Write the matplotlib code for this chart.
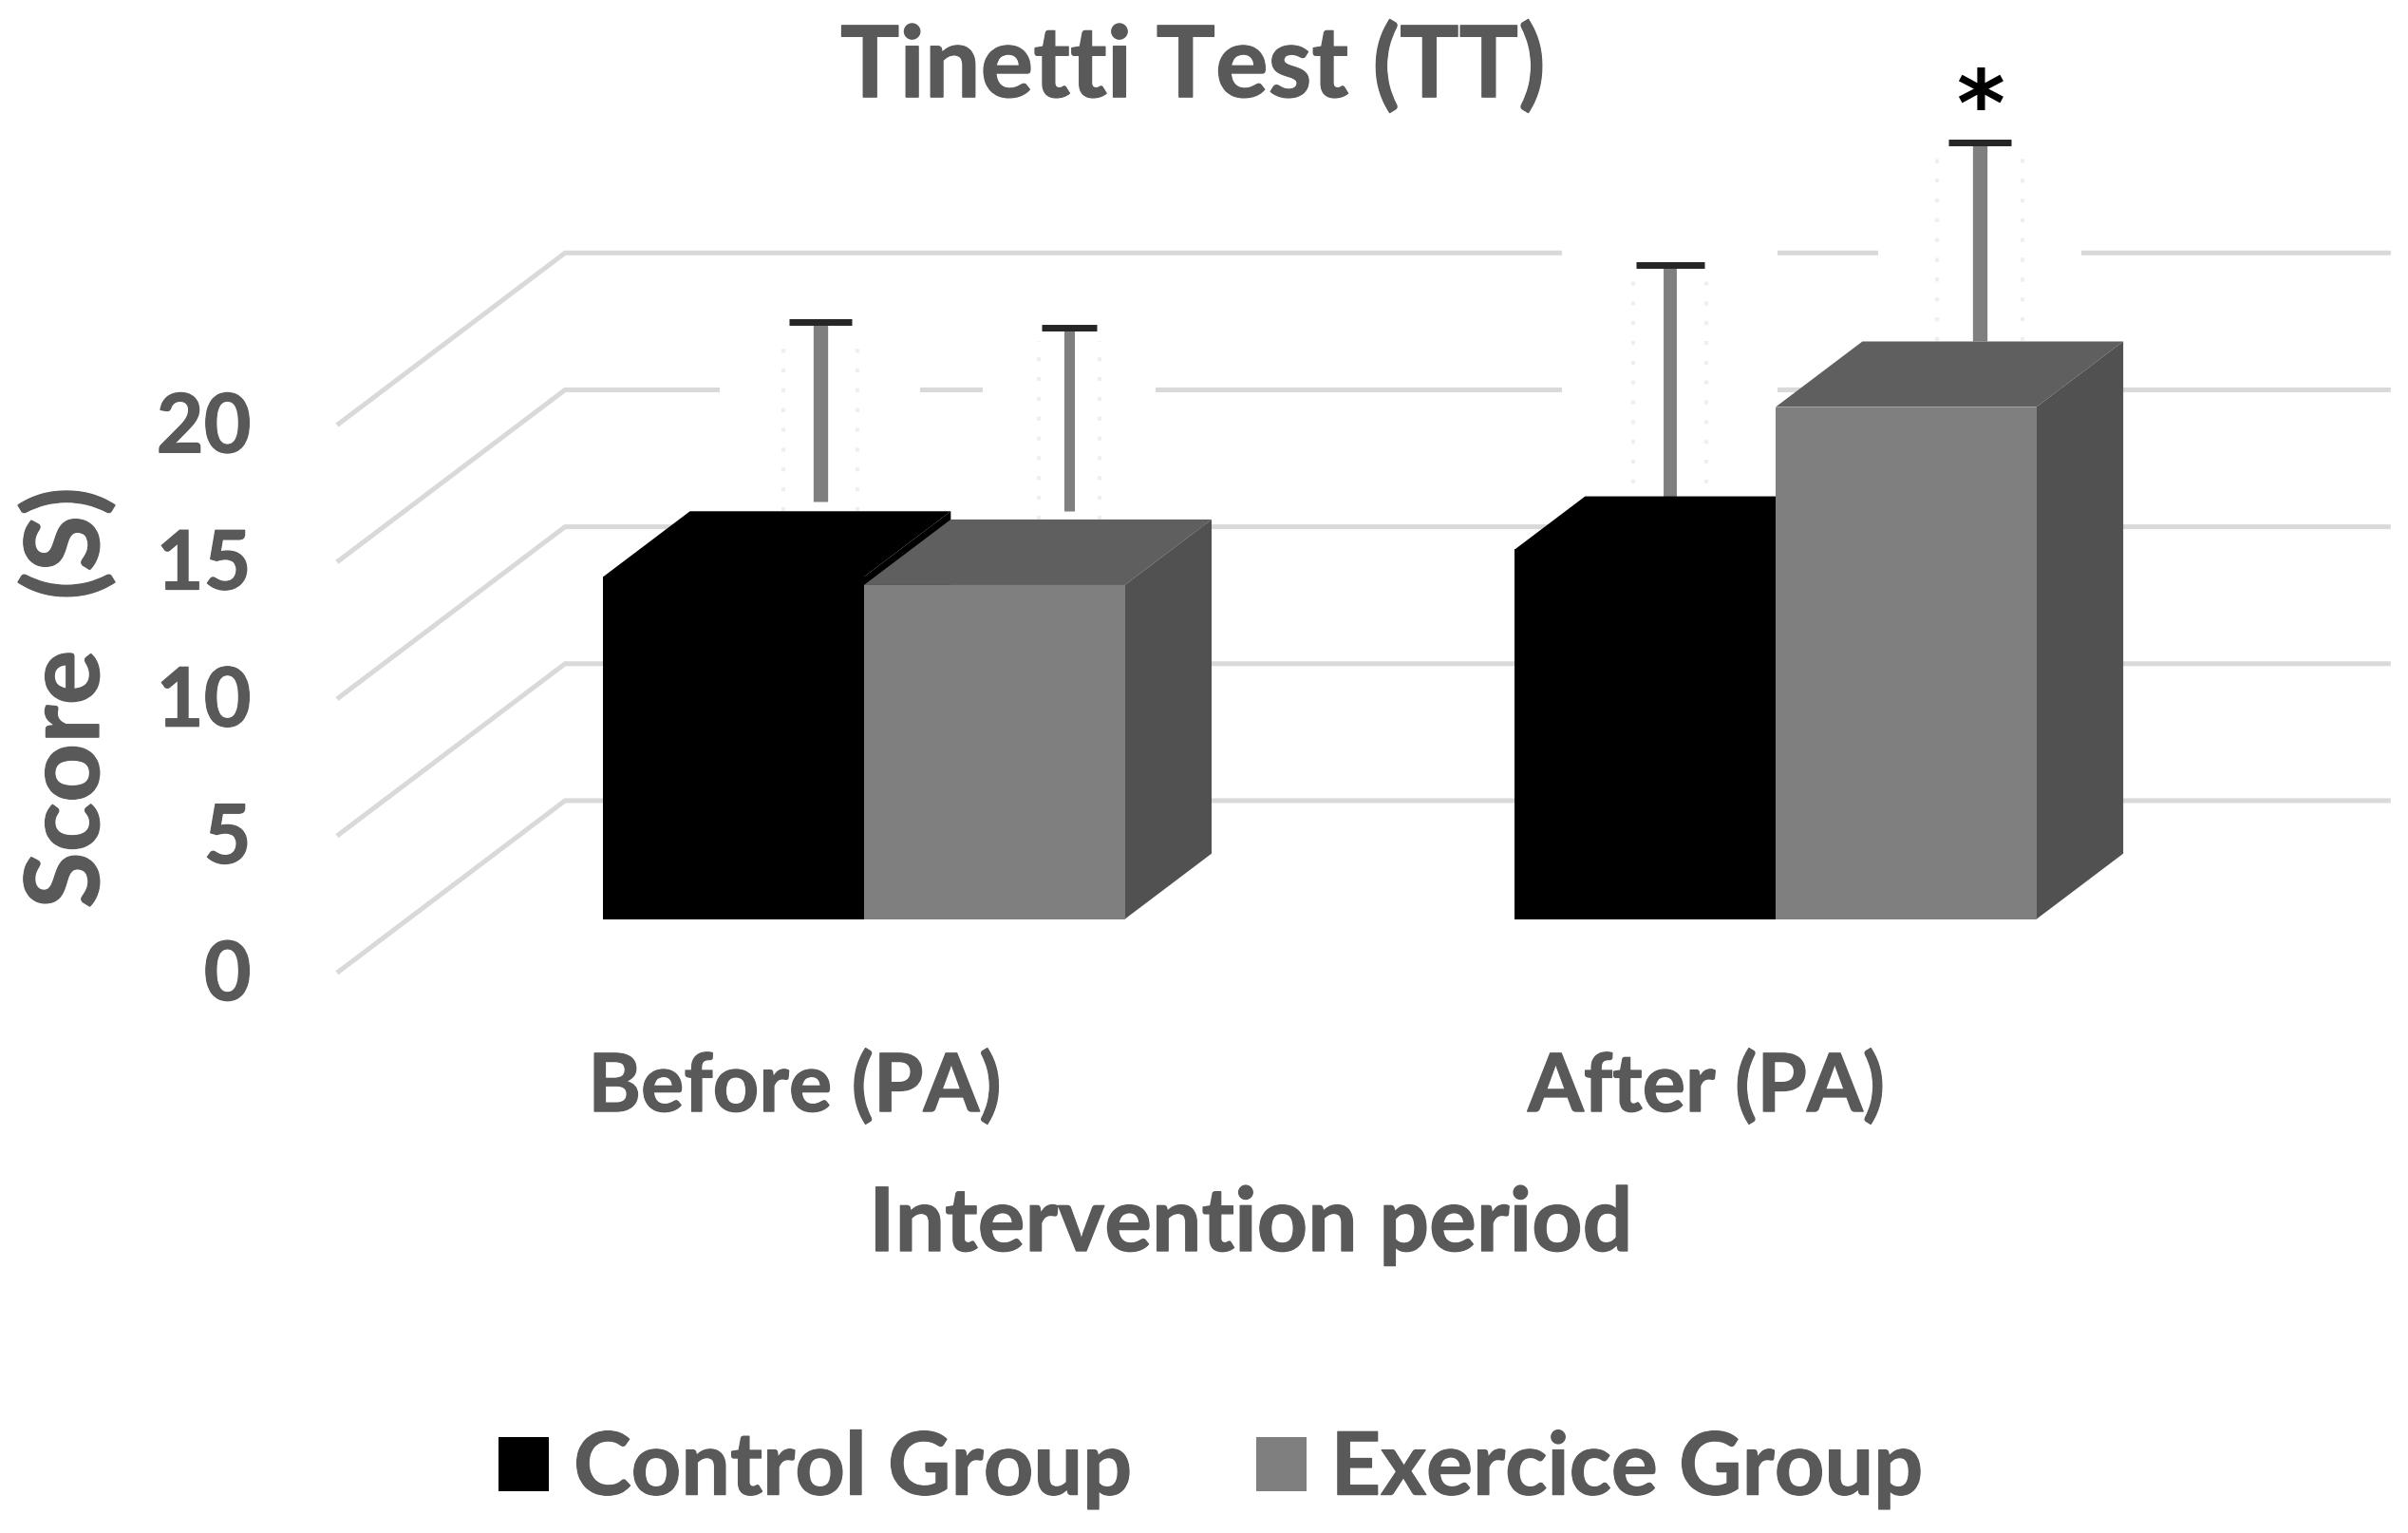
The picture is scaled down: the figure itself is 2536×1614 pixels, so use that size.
import numpy as np
import matplotlib
matplotlib.use('Agg')
import matplotlib.pyplot as plt
import matplotlib.patheffects as pe
from matplotlib.patches import Patch, Polygon

# values
periods = ['Before (PA)', 'After (PA)']
groups = ['Control Group', 'Exercice Group']
control_mean = [12.5, 13.5]
control_sd = [6.9, 8.0]
exercise_mean = [12.2, 18.7]
exercise_sd = [7.0, 7.25]
score_ticks = [0, 5, 10, 15, 20]

TEXT = '#595959'
GRID = '#d9d9d9'
plt.rcParams['font.family'] = ['Lato', 'DejaVu Sans']
plt.rcParams['font.weight'] = 'bold'
HEAVY = [pe.withStroke(linewidth=0.9, foreground=TEXT)]

# oblique projection of the excel style 3D chart
PX_W, PX_H = 1565.0, 997.0   # picture size in the units I measured in
PX_CAT = 592.5               # px per category
PX_UNIT = 17.8               # px per score unit
X0, Y0 = 516.5, 632.0        # where category 0 / score 0 sits on the front edge
DX = 147.0 / PX_CAT
DY = 111.0 / PX_UNIT
D_FRONT, D_BACK = 0.306, 0.69
BAR_W = 169.5 / PX_CAT


def proj(x, v, d):
    return x + d * DX, v + d * DY


fig = plt.figure(figsize=(25.36, 16.15), dpi=100)
ax = fig.add_axes([0, 0, 1, 1])
ax.set_xlim(-X0 / PX_CAT, (PX_W - X0) / PX_CAT)
ax.set_ylim((Y0 - PX_H) / PX_UNIT, Y0 / PX_UNIT)
ax.axis('off')

# gridlines: wall then back plane
for v in score_ticks:
    xs = [-0.5, -0.5 + DX, 1.5 + DX]
    ys = [v, v + DY, v + DY]
    ax.plot(xs, ys, color=GRID, lw=3.6, zorder=1, solid_joinstyle='miter')
    ax.text(-0.5 - 57 / PX_CAT, v - 0.2, str(v), ha='right', va='center',
            fontsize=62, color=TEXT, path_effects=HEAVY)

# error bars, the white box round each one hides the grid
err_shift = [[0.095, 0.027], [0.082, 0.081]]
stem_lw = [[11, 10], [8, 11]]
cap_size = [[24, 26], [21, 24]]
halo_w = [[65, 70], [56, 66]]
halo_dots = [[24, 24], [20, 28]]
stem_gap = [[0.35, -0.5], [0.3, 0.0]]
top_depth = [[1.0, 0.81], [1.0, 1.0]]   # the halo eats the back of one box top


def draw_bars(means, sds, offset, idx, front, top, side, z):
    for i, m in enumerate(means):
        c = i + offset
        xf, yf = proj(c, 0, D_FRONT)
        xl, xr = xf - BAR_W / 2, xf + BAR_W / 2
        dx_b = (D_BACK - D_FRONT) * DX
        dy_b = (D_BACK - D_FRONT) * DY
        yt = yf + m
        back_top = yt + dy_b
        # error bar behind the box
        ex = xf + err_shift[idx][i]
        ax.bar(ex, sds[i] + 0.9, bottom=back_top, width=2 * halo_w[idx][i] / PX_CAT,
               color='white', zorder=2)
        for sgn in (-1, 1):
            ax.plot([ex + sgn * halo_dots[idx][i] / PX_CAT] * 2, [back_top, back_top + sds[i] - 0.5],
                    color='#efefef', lw=3, ls=(0, (1, 4)), zorder=3)
        low = back_top + stem_gap[idx][i]
        ax.errorbar(ex, low, yerr=[[0], [sds[i] - stem_gap[idx][i]]], ecolor='#7f7f7f',
                    elinewidth=stem_lw[idx][i], zorder=3, fmt='none')
        ax.plot([ex], [back_top + sds[i]], marker='_', ms=cap_size[idx][i] * 2, mew=5,
                color='#262626', zorder=4)
        # box
        ax.bar(xf, m, bottom=yf, width=BAR_W, color=front, zorder=z + 1)
        k = top_depth[idx][i]
        ax.add_patch(Polygon([(xl, yt), (xl + k * dx_b, yt + k * dy_b), (xr + dx_b, yt + k * dy_b), (xr, yt)],
                             facecolor=top, edgecolor='none', zorder=z))
        ax.add_patch(Polygon([(xr, yf), (xr + dx_b, yf + dy_b), (xr + dx_b, yt + k * dy_b), (xr, yt)],
                             facecolor=side, edgecolor='none', zorder=z))


draw_bars(control_mean, control_sd, -BAR_W / 2, 0, 'black', 'black', 'black', 5)
draw_bars(exercise_mean, exercise_sd, BAR_W / 2, 1, '#7f7f7f', '#5f5f5f', '#515151', 7)

# significance star over the last error bar
star_x = proj(1 + BAR_W / 2, 0, D_FRONT)[0] + err_shift[1][1]
ax.text(star_x, exercise_mean[1] + D_BACK * DY + exercise_sd[1] + 1.2, '*', ha='center', va='center',
        fontsize=70, color='black', family='DejaVu Sans')

for i, p in enumerate(periods):
    ax.text(i, (Y0 - 707) / PX_UNIT, p, ha='center', va='center', fontsize=61, color=TEXT,
            path_effects=HEAVY)

ax.text(0.5, (Y0 - 797) / PX_UNIT, 'Intervention period', ha='center', va='center',
        fontsize=67, color=TEXT, path_effects=HEAVY)
ax.text((775 - X0) / PX_CAT, (Y0 - 44) / PX_UNIT, 'Tinetti Test (TT)', ha='center', va='center',
        fontsize=75, color=TEXT, path_effects=HEAVY)
ax.text((44 - X0) / PX_CAT, (Y0 - 454) / PX_UNIT, 'Score  (S)', rotation=90, ha='center', va='center',
        fontsize=78, color=TEXT, path_effects=HEAVY)

handles = [Patch(facecolor='black', label=groups[0]), Patch(facecolor='#7f7f7f', label=groups[1])]
leg = ax.legend(handles=handles, loc='center', bbox_to_anchor=(787 / PX_W, 1 - 956 / PX_H), ncol=2,
                frameon=False, fontsize=66, labelcolor=TEXT, handlelength=0.58, handleheight=0.58,
                handletextpad=0.28, columnspacing=1.42)
for t in leg.get_texts():
    t.set_path_effects(HEAVY)

fig.savefig('out.png', dpi=100, facecolor='white')
